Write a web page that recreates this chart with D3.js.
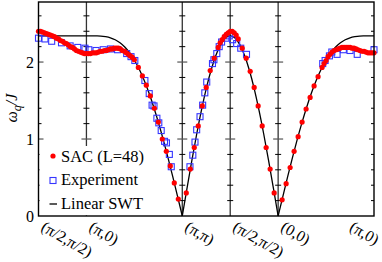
<!DOCTYPE html>
<html>
<head>
<meta charset="utf-8">
<script src="https://cdn.jsdelivr.net/npm/d3@7"></script>
</head>
<body style="margin:0">
<script>

// path through the zone: half-diagonals count 1 unit, (pi) legs count 2 units
var kLabels = ["(π/2,π/2)", "(π,0)", "(π,π)", "(π/2,π/2)", "(0,0)", "(π,0)"];
var kPos = [0, 1, 3, 4, 5, 7];

var yMajor = [0, 1, 2];
var yMinor = [0.2, 0.4, 0.6, 0.8, 1.2, 1.4, 1.6, 1.8, 2.2, 2.4, 2.6];

// SAC (L=48)
var sacK = [0, 0.042, 0.083, 0.125, 0.167, 0.208, 0.25, 0.292, 0.333, 0.375, 0.417, 0.458, 0.5,
  0.542, 0.583, 0.625, 0.667, 0.708, 0.75, 0.792, 0.833, 0.875, 0.917, 0.958, 1.0,
  1.042, 1.083, 1.125, 1.167, 1.208, 1.25, 1.292, 1.333, 1.375, 1.417, 1.458, 1.5,
  1.542, 1.583, 1.625, 1.667, 1.708, 1.75, 1.792, 1.833, 1.875, 1.917, 1.958, 2.0,
  2.083, 2.167, 2.25, 2.333, 2.417, 2.5, 2.583, 2.667, 2.75, 2.833, 2.917,
  3.083, 3.167, 3.25, 3.333, 3.417, 3.5, 3.583, 3.667, 3.75, 3.79, 3.833, 3.875, 3.917, 3.958, 4.0,
  4.042, 4.083, 4.125, 4.167, 4.25, 4.333, 4.417, 4.5, 4.583, 4.667, 4.75, 4.833, 4.917,
  5.083, 5.167, 5.25, 5.333, 5.417, 5.5, 5.583, 5.667, 5.75, 5.833, 5.917, 5.958, 6.0,
  6.042, 6.083, 6.125, 6.167, 6.208, 6.25, 6.292, 6.333, 6.375, 6.417, 6.458, 6.5,
  6.542, 6.583, 6.625, 6.667, 6.708, 6.75, 6.792, 6.833, 6.875, 6.917, 6.958, 7.0];
var sacW = [2.40, 2.40, 2.39, 2.38, 2.37, 2.36, 2.35, 2.34, 2.33, 2.31, 2.30, 2.28, 2.27,
  2.25, 2.24, 2.22, 2.20, 2.19, 2.17, 2.15, 2.14, 2.13, 2.12, 2.11, 2.11,
  2.11, 2.11, 2.12, 2.12, 2.12, 2.13, 2.14, 2.14, 2.15, 2.15, 2.16, 2.17,
  2.17, 2.18, 2.18, 2.18, 2.17, 2.15, 2.14, 2.12, 2.10, 2.08, 2.06, 2.03,
  1.93, 1.82, 1.70, 1.56, 1.40, 1.22, 1.00, 0.84, 0.65, 0.43, 0.22,
  0.30, 0.61, 0.89, 1.17, 1.43, 1.67, 1.89, 2.05, 2.19, 2.25, 2.29, 2.33, 2.36, 2.38, 2.40,
  2.40, 2.38, 2.35, 2.30, 2.18, 2.05, 1.88, 1.67, 1.43, 1.17, 0.89, 0.61, 0.30,
  0.21, 0.42, 0.63, 0.84, 1.03, 1.22, 1.39, 1.54, 1.69, 1.81, 1.93, 1.98, 2.02,
  2.07, 2.10, 2.13, 2.15, 2.16, 2.17, 2.18, 2.19, 2.19, 2.19, 2.19, 2.19,
  2.18, 2.18, 2.17, 2.16, 2.15, 2.14, 2.14, 2.13, 2.12, 2.12, 2.12, 2.12];

// Experiment
var expK = [0, 0.135, 0.275, 0.48, 0.66, 0.82, 0.97,
  1.05, 1.2, 1.35, 1.5, 1.65, 1.84, 1.93, 2.01, 2.22, 2.31, 2.37, 2.41, 2.47, 2.51, 2.56, 2.63, 2.67, 2.73, 2.77,
  3.16, 3.22, 3.265, 3.30, 3.37, 3.425, 3.47, 3.51, 3.63, 3.66, 3.72, 3.77, 3.82, 3.91, 3.98,
  4.05, 4.135, 4.22, 4.34,
  5.93, 5.98, 6.07, 6.12, 6.23, 6.36, 6.5, 6.65, 7.0];
var expW = [2.31, 2.30, 2.27, 2.25, 2.21, 2.19, 2.18,
  2.16, 2.15, 2.16, 2.17, 2.16, 2.11, 2.07, 2.02, 1.76, 1.59, 1.44, 1.43, 1.27, 1.21, 1.11, 0.97, 0.95, 0.80, 0.64,
  0.64, 0.79, 0.96, 1.12, 1.29, 1.44, 1.60, 1.74, 1.98, 2.03, 2.11, 2.20, 2.26, 2.31, 2.34,
  2.29, 2.24, 2.18, 2.10,
  1.98, 2.02, 2.08, 2.13, 2.10, 2.16, 2.15, 2.10, 2.16];

// Linear SWT curve, sampled
var swtK = [0, 0.5, 1.0, 1.1, 1.2, 1.3, 1.4, 1.5, 1.6, 1.7, 1.8, 1.9, 2.0, 2.1, 2.2, 2.3, 2.4, 2.5, 2.6, 2.7, 2.8, 2.9, 3.0,
  3.1, 3.2, 3.3, 3.4, 3.5, 3.6, 3.7, 3.8, 3.9, 4.0, 4.1, 4.2, 4.3, 4.4, 4.5, 4.6, 4.7, 4.8, 4.9, 5.0,
  5.1, 5.2, 5.3, 5.4, 5.5, 5.6, 5.7, 5.8, 5.9, 6.0, 6.1, 6.2, 6.3, 6.4, 6.5, 6.6, 6.7, 6.8, 6.9, 7.0];
var swtW = [2.34, 2.34, 2.34, 2.340, 2.339, 2.337, 2.329, 2.315, 2.290, 2.251, 2.196, 2.122, 2.026, 1.909, 1.769, 1.607, 1.423, 1.219, 0.998, 0.762, 0.514, 0.259, 0,
  0.366, 0.723, 1.062, 1.375, 1.655, 1.893, 2.085, 2.226, 2.311, 2.340, 2.311, 2.226, 2.085, 1.893, 1.655, 1.375, 1.062, 0.723, 0.366, 0,
  0.259, 0.514, 0.762, 0.998, 1.219, 1.423, 1.607, 1.769, 1.909, 2.026, 2.122, 2.196, 2.251, 2.290, 2.315, 2.329, 2.337, 2.339, 2.340, 2.340];

var legendLabels = ["SAC (L=48)", "Experiment", "Linear SWT"];

var w = 382, h = 262;
var padL = 38.5, padR = 374, padT = 2, padB = 216;

var svg = d3.select("body").append("svg")
  .attr("width", w)
  .attr("height", h);

var xScale = d3.scaleLinear().domain([0, 7]).range([padL, padR]);
var yScale = d3.scaleLinear().domain([0, 2.78]).range([padB, padT]);

// vertical dividers at the inner high-symmetry points
var inner = kPos.slice(1, kPos.length - 1);
svg.selectAll("line.div")
  .data(inner)
  .enter().append("line")
  .attr("class", "div")
  .attr("x1", d => xScale(d)).attr("x2", d => xScale(d))
  .attr("y1", padT).attr("y2", padB)
  .attr("stroke", "#333").attr("stroke-width", 1.3);

// crossing ticks on the dividers
inner.forEach(function(k) {
  var x = xScale(k);
  svg.selectAll(null).data(yMinor).enter().append("line")
    .attr("x1", x - 3).attr("x2", x + 3)
    .attr("y1", d => yScale(d)).attr("y2", d => yScale(d))
    .attr("stroke", "#000").attr("stroke-width", 1);
  svg.selectAll(null).data(yMajor.slice(1)).enter().append("line")
    .attr("x1", x - 5).attr("x2", x + 5)
    .attr("y1", d => yScale(d)).attr("y2", d => yScale(d))
    .attr("stroke", "#555").attr("stroke-width", 1.2);
});

// inward ticks on left and right frame
[[padL, 1], [padR, -1]].forEach(function(s) {
  svg.selectAll(null).data(yMinor).enter().append("line")
    .attr("x1", s[0]).attr("x2", s[0] + 3 * s[1])
    .attr("y1", d => yScale(d)).attr("y2", d => yScale(d))
    .attr("stroke", "#000").attr("stroke-width", 1);
  svg.selectAll(null).data(yMajor.slice(1)).enter().append("line")
    .attr("x1", s[0]).attr("x2", s[0] + 5 * s[1])
    .attr("y1", d => yScale(d)).attr("y2", d => yScale(d))
    .attr("stroke", "#555").attr("stroke-width", 1.2);
});

// Linear SWT, drawn branch by branch so the cusps stay sharp
var swt = swtK.map((k, i) => [k, swtW[i]]);
var branches = [[]];
swt.forEach(function(p, i) {
  branches[branches.length - 1].push(p);
  if (p[1] === 0 && i > 0 && i < swt.length - 1) branches.push([p]);
});
var line = d3.line()
  .x(d => xScale(d[0]))
  .y(d => yScale(d[1]))
  .curve(d3.curveMonotoneX);
svg.selectAll("path.swt")
  .data(branches)
  .enter().append("path")
  .attr("class", "swt")
  .attr("d", line)
  .attr("fill", "none")
  .attr("stroke", "#000")
  .attr("stroke-width", 1.3);

// Experiment squares
var sq = 6;
svg.selectAll("rect.exp")
  .data(expK.map((k, i) => [k, expW[i]]))
  .enter().append("rect")
  .attr("class", "exp")
  .attr("x", d => xScale(d[0]) - sq / 2)
  .attr("y", d => yScale(d[1]) - sq / 2)
  .attr("width", sq).attr("height", sq)
  .attr("fill", "none")
  .attr("stroke", "#3535ff")
  .attr("stroke-width", 1.1);

// SAC dots
svg.selectAll("circle.sac")
  .data(sacK.map((k, i) => [k, sacW[i]]))
  .enter().append("circle")
  .attr("class", "sac")
  .attr("cx", d => xScale(d[0]))
  .attr("cy", d => yScale(d[1]))
  .attr("r", 2.6)
  .attr("fill", "#f00");

// legend, on a white patch
svg.append("rect")
  .attr("x", padL + 1).attr("y", 146)
  .attr("width", 110).attr("height", padB - 146 - 0.7)
  .attr("fill", "#fff");

var leg = svg.append("g").attr("transform", "translate(53,156)");
leg.append("circle").attr("cx", 0).attr("cy", 0).attr("r", 2.6).attr("fill", "#f00");
leg.append("rect").attr("x", -3).attr("y", 21.5).attr("width", sq).attr("height", sq)
  .attr("fill", "none").attr("stroke", "#3535ff").attr("stroke-width", 1.1);
leg.append("line").attr("x1", -3.5).attr("x2", 4).attr("y1", 48).attr("y2", 48)
  .attr("stroke", "#000").attr("stroke-width", 1.3);
leg.selectAll("text")
  .data(legendLabels)
  .enter().append("text")
  .attr("x", 8)
  .attr("y", (d, i) => 5.7 + i * 23.5)
  .style("font-family", "Liberation Serif")
  .style("font-size", "16.5px")
  .text(d => d);

// frame
svg.append("rect")
  .attr("x", padL).attr("y", padT)
  .attr("width", padR - padL).attr("height", padB - padT)
  .attr("fill", "none")
  .attr("stroke", "#000")
  .attr("stroke-width", 1.4);

// y tick labels
svg.selectAll("text.ylab")
  .data(yMajor)
  .enter().append("text")
  .attr("class", "ylab")
  .attr("x", 34)
  .attr("y", d => yScale(d) + 5.5)
  .attr("text-anchor", "end")
  .style("font-family", "Liberation Serif")
  .style("font-size", "16px")
  .text(d => d);

// y axis title
var yt = svg.append("text")
  .attr("transform", "translate(17,108) rotate(-90)")
  .attr("text-anchor", "middle")
  .style("font-family", "Liberation Serif")
  .style("font-size", "16px")
  .style("font-style", "italic");
yt.append("tspan").text("ω");
yt.append("tspan").attr("dy", 4).style("font-size", "12px").text("q");
yt.append("tspan").attr("dy", -4).text("/J");

// x tick labels, slanted
var ang = 30;
svg.selectAll("text.xlab")
  .data(kPos)
  .enter().append("text")
  .attr("class", "xlab")
  .style("font-family", "Liberation Serif")
  .style("font-size", "16px")
  .text((d, i) => kLabels[i])
  .each(function(d) {
    var len = this.getComputedTextLength();
    var x0 = Math.min(xScale(d) + 1.5, 375 - len * Math.cos(ang * Math.PI / 180));
    d3.select(this).attr("transform", "translate(" + x0 + ",230) rotate(" + ang + ")");
  });

</script>
</body>
</html>
